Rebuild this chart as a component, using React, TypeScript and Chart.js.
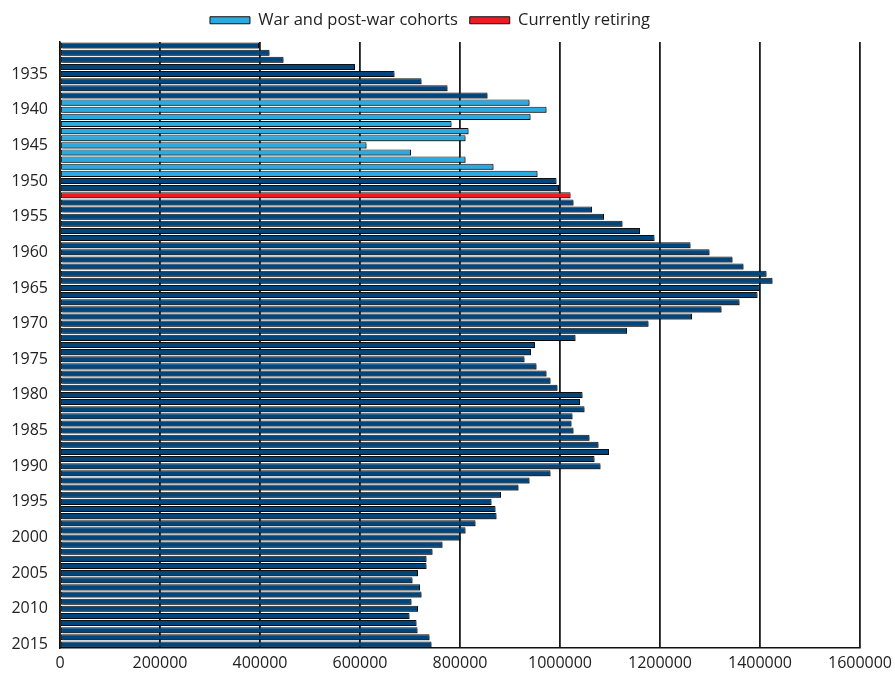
import React, { useEffect, useRef } from 'react';
import { Chart, registerables } from 'chart.js';

Chart.register(...registerables);

const years = [
  1931, 1932, 1933, 1934, 1935, 1936, 1937, 1938, 1939, 1940,
  1941, 1942, 1943, 1944, 1945, 1946, 1947, 1948, 1949, 1950,
  1951, 1952, 1953, 1954, 1955, 1956, 1957, 1958, 1959, 1960,
  1961, 1962, 1963, 1964, 1965, 1966, 1967, 1968, 1969, 1970,
  1971, 1972, 1973, 1974, 1975, 1976, 1977, 1978, 1979, 1980,
  1981, 1982, 1983, 1984, 1985, 1986, 1987, 1988, 1989, 1990,
  1991, 1992, 1993, 1994, 1995, 1996, 1997, 1998, 1999, 2000,
  2001, 2002, 2003, 2004, 2005, 2006, 2007, 2008, 2009, 2010,
  2011, 2012, 2013, 2014, 2015,
];

const births = [
  398000, 419000, 447000, 590000, 669000, 723000, 775000, 855000, 939000, 973000,
  941000, 783000, 817000, 811000, 613000, 702000, 811000, 867000, 955000, 993000,
  998000, 1021000, 1027000, 1064000, 1088000, 1125000, 1160000, 1189000, 1261000, 1299000,
  1345000, 1367000, 1413000, 1425000, 1399000, 1395000, 1359000, 1323000, 1264000, 1177000,
  1134000, 1031000, 950000, 942000, 929000, 953000, 973000, 981000, 995000, 1045000,
  1040000, 1049000, 1025000, 1023000, 1027000, 1059000, 1077000, 1098000, 1069000, 1081000,
  981000, 939000, 917000, 882000, 863000, 871000, 873000, 831000, 811000, 801000,
  765000, 745000, 733000, 733000, 716000, 705000, 720000, 723000, 703000, 716000,
  699000, 713000, 715000, 739000, 743000,
];

const warCohortYears = [1939, 1940, 1941, 1942, 1943, 1944, 1945, 1946, 1947, 1948, 1949];
const retiringYears = [1952];
const labeledYears = [1935, 1940, 1945, 1950, 1955, 1960, 1965, 1970, 1975, 1980, 1985, 1990, 1995, 2000, 2005, 2010, 2015];

const seriesNames = ['War and post-war cohorts', 'Currently retiring', 'Births'];
const seriesColors = ['#29abe2', '#ed1c24', '#00457c'];

const X_MIN = 0;
const X_MAX = 1600000;
const X_STEP = 200000;

const FONT = "'Open Sans', 'DejaVu Sans', sans-serif";

export default function App() {
  const canvasRef = useRef<HTMLCanvasElement | null>(null);

  useEffect(() => {
    const canvas = canvasRef.current;
    if (!canvas) return;

    const warData = years.map((y, i) => (warCohortYears.includes(y) ? births[i] : null));
    const retData = years.map((y, i) => (retiringYears.includes(y) ? births[i] : null));
    const otherData = years.map((y, i) =>
      !warCohortYears.includes(y) && !retiringYears.includes(y) ? births[i] : null
    );

    const common = {
      borderColor: '#111111',
      borderWidth: 1,
      borderSkipped: false as const,
      grouped: false,
      barPercentage: 0.85,
      categoryPercentage: 1,
    };

    const shadowPlugin = {
      id: 'barShadow',
      beforeInit(chart: any) {
        const lg = chart.legend;
        if (lg) {
          const orig = lg.fit;
          lg.fit = function () {
            orig.call(this);
            this.height = 42;
          };
        }
      },
      beforeDatasetsDraw(chart: any) {
        const ctx = chart.ctx;
        ctx.save();
        ctx.shadowColor = 'rgba(0,0,0,0.45)';
        ctx.shadowOffsetX = 1.5;
        ctx.shadowOffsetY = 1.5;
        ctx.shadowBlur = 0;
      },
      afterDatasetsDraw(chart: any) {
        chart.ctx.restore();
      },
    };

    const chart = new Chart(canvas, {
      type: 'bar',
      data: {
        labels: years.map(String),
        datasets: [
          { label: seriesNames[0], data: warData, backgroundColor: seriesColors[0], ...common },
          { label: seriesNames[1], data: retData, backgroundColor: seriesColors[1], ...common },
          { label: seriesNames[2], data: otherData, backgroundColor: seriesColors[2], ...common },
        ],
      },
      options: {
        indexAxis: 'y',
        animation: false,
        responsive: true,
        maintainAspectRatio: false,
        layout: { padding: { top: 0, right: 35, bottom: 0, left: 0 } },
        plugins: {
          legend: {
            position: 'top',
            labels: {
              filter: (item: any) => item.datasetIndex !== 2,
              boxWidth: 40,
              boxHeight: 7,
              padding: 12,
              color: '#222',
              font: { family: FONT, size: 16.5 },
            },
          },
          tooltip: { enabled: false },
        },
        scales: {
          x: {
            type: 'linear',
            min: X_MIN,
            max: X_MAX,
            ticks: {
              stepSize: X_STEP,
              color: '#222',
              padding: 6,
              font: { family: FONT, size: 16 },
              callback: (v: any) => String(v),
            },
            grid: { color: '#1a1a1a', lineWidth: 1.8, drawTicks: false },
            border: { display: true, color: '#111', width: 1.5 },
            afterFit: (scale: any) => {
              scale.height = 29;
              scale.paddingRight = 0;
              scale.paddingLeft = 0;
            },
          },
          y: {
            type: 'category',
            ticks: {
              autoSkip: false,
              color: '#222',
              padding: 12,
              font: { family: FONT, size: 16 },
              callback: function (this: any, v: any, i: number) {
                const yr = years[i];
                return labeledYears.includes(yr) ? String(yr) : '';
              },
            },
            grid: { display: false, drawTicks: false },
            border: { display: true, color: '#111', width: 1.5 },
            afterFit: (scale: any) => {
              scale.width = 60;
            },
          },
        },
      },
      plugins: [shadowPlugin],
    });

    return () => chart.destroy();
  }, []);

  return (
    <div style={{ position: 'fixed', left: 0, top: 0, width: 895, height: 677, background: '#fff' }}>
      <canvas ref={canvasRef} />
    </div>
  );
}
